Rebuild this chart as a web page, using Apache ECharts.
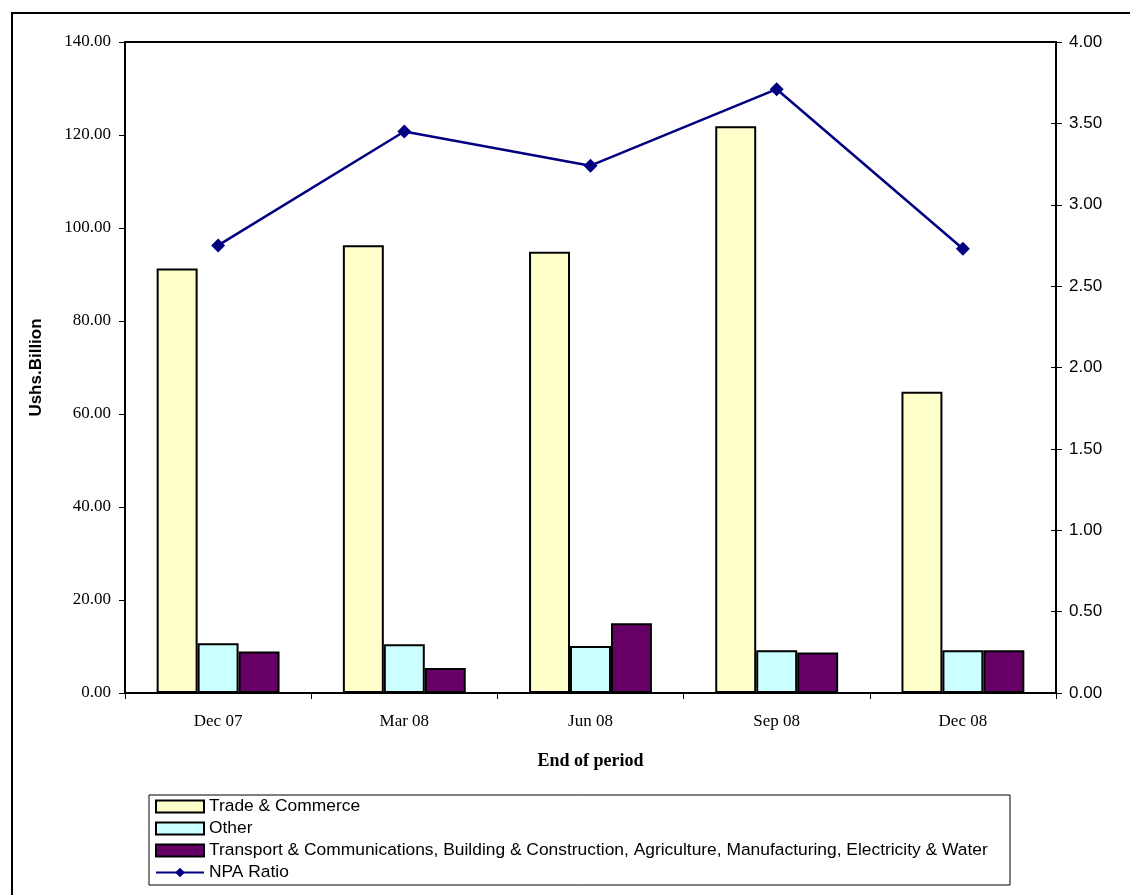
<!DOCTYPE html>
<html>
<head>
<meta charset="utf-8">
<script src="https://cdn.jsdelivr.net/npm/echarts@6/dist/echarts.min.js"></script>
<style>
  html, body { margin: 0; padding: 0; background: #fff; }
  #chart { width: 1130px; height: 895px; }
</style>
</head>
<body>
<div id="chart"></div>
<script>
// Non-performing advances by sector (Ushs. Billion) and NPA ratio (%)
const periods = ['Dec 07', 'Mar 08', 'Jun 08', 'Sep 08', 'Dec 08'];
const tradeCommerce = [91.3, 96.3, 94.9, 121.9, 64.8];
const otherSectors = [10.7, 10.5, 10.1, 9.2, 9.2];
const transportEtc = [8.9, 5.4, 15.0, 8.7, 9.2];
const npaRatio = [2.75, 3.45, 3.24, 3.71, 2.73];

const seriesNames = [
  'Trade & Commerce',
  'Other',
  'Transport & Communications, Building & Construction, Agriculture, Manufacturing, Electricity & Water',
  'NPA Ratio'
];

const serif = '"Liberation Serif", "DejaVu Serif", serif';
const sans = '"Liberation Sans", Arial, sans-serif';

const barBorder = { borderColor: '#000', borderWidth: 2 };

const chart = echarts.init(document.getElementById('chart'), null, { renderer: 'canvas' });

chart.setOption({
  animation: false,
  backgroundColor: '#fff',
  graphic: [
    {
      type: 'rect',
      shape: { x: 12, y: 13, width: 1300, height: 1000 },
      style: { fill: 'none', stroke: '#000', lineWidth: 2 },
      silent: true
    },
    {
      type: 'rect',
      shape: { x: 149, y: 795, width: 861, height: 90 },
      style: { fill: 'none', stroke: '#000', lineWidth: 1 },
      silent: true
    }
  ],
  grid: {
    left: 125,
    right: 74,
    top: 42,
    bottom: 202,
    show: true,
    borderColor: '#000',
    borderWidth: 2,
    backgroundColor: 'transparent'
  },
  legend: {
    orient: 'vertical',
    left: 155,
    top: 798,
    itemWidth: 48,
    itemHeight: 12,
    itemGap: 5,
    padding: 0,
    data: [
      { name: seriesNames[0], icon: 'rect' },
      { name: seriesNames[1], icon: 'rect' },
      { name: seriesNames[2], icon: 'rect' },
      { name: seriesNames[3] }
    ],
    textStyle: { fontFamily: sans, fontSize: 17.4, lineHeight: 16, color: '#000' }
  },
  xAxis: {
    type: 'category',
    data: periods,
    name: 'End of period',
    nameLocation: 'middle',
    nameGap: 59,
    nameTextStyle: { fontFamily: serif, fontSize: 18, fontWeight: 'bold', color: '#000' },
    axisLine: { lineStyle: { color: '#000', width: 2 } },
    axisTick: { show: true, length: 6, lineStyle: { color: '#000', width: 1 } },
    axisLabel: { fontFamily: serif, fontSize: 17, color: '#000', margin: 20 }
  },
  yAxis: [
    {
      type: 'value',
      min: 0,
      max: 140,
      interval: 20,
      position: 'left',
      name: 'Ushs.Billion',
      nameLocation: 'middle',
      nameGap: 80,
      nameRotate: 90,
      nameTextStyle: { fontFamily: sans, fontSize: 17, fontWeight: 'bold', color: '#000' },
      axisLine: { show: true, lineStyle: { color: '#000', width: 2 } },
      axisTick: { show: true, length: 6, lineStyle: { color: '#000', width: 1 } },
      axisLabel: {
        fontFamily: serif, fontSize: 17, color: '#000', margin: 14,
        formatter: v => v.toFixed(2)
      },
      splitLine: { show: false }
    },
    {
      type: 'value',
      min: 0,
      max: 4,
      interval: 0.5,
      position: 'right',
      axisLine: { show: true, lineStyle: { color: '#000', width: 2 } },
      axisTick: { show: true, length: 6, lineStyle: { color: '#000', width: 1 } },
      axisLabel: {
        fontFamily: sans, fontSize: 17, color: '#000', margin: 13,
        formatter: v => v.toFixed(2)
      },
      splitLine: { show: false }
    },
    {
      // inner half of the crossing ticks on the right-hand axis
      type: 'value',
      min: 0,
      max: 4,
      interval: 0.5,
      position: 'right',
      axisLine: { show: false },
      axisTick: { show: true, inside: true, length: 5, lineStyle: { color: '#000', width: 1 } },
      axisLabel: { show: false },
      splitLine: { show: false }
    }
  ],
  series: [
    {
      name: seriesNames[0],
      type: 'bar',
      data: tradeCommerce,
      barWidth: '22%',
      barGap: '0%',
      itemStyle: Object.assign({ color: '#FFFFCC' }, barBorder)
    },
    {
      name: seriesNames[1],
      type: 'bar',
      data: otherSectors,
      barWidth: '22%',
      barGap: '0%',
      itemStyle: Object.assign({ color: '#CCFFFF' }, barBorder)
    },
    {
      name: seriesNames[2],
      type: 'bar',
      data: transportEtc,
      barWidth: '22%',
      barGap: '0%',
      itemStyle: Object.assign({ color: '#660066' }, barBorder)
    },
    {
      name: seriesNames[3],
      type: 'line',
      yAxisIndex: 1,
      data: npaRatio,
      symbol: 'diamond',
      symbolSize: 14,
      lineStyle: { color: '#000080', width: 2.5 },
      itemStyle: { color: '#000080' }
    }
  ]
});
</script>
</body>
</html>
